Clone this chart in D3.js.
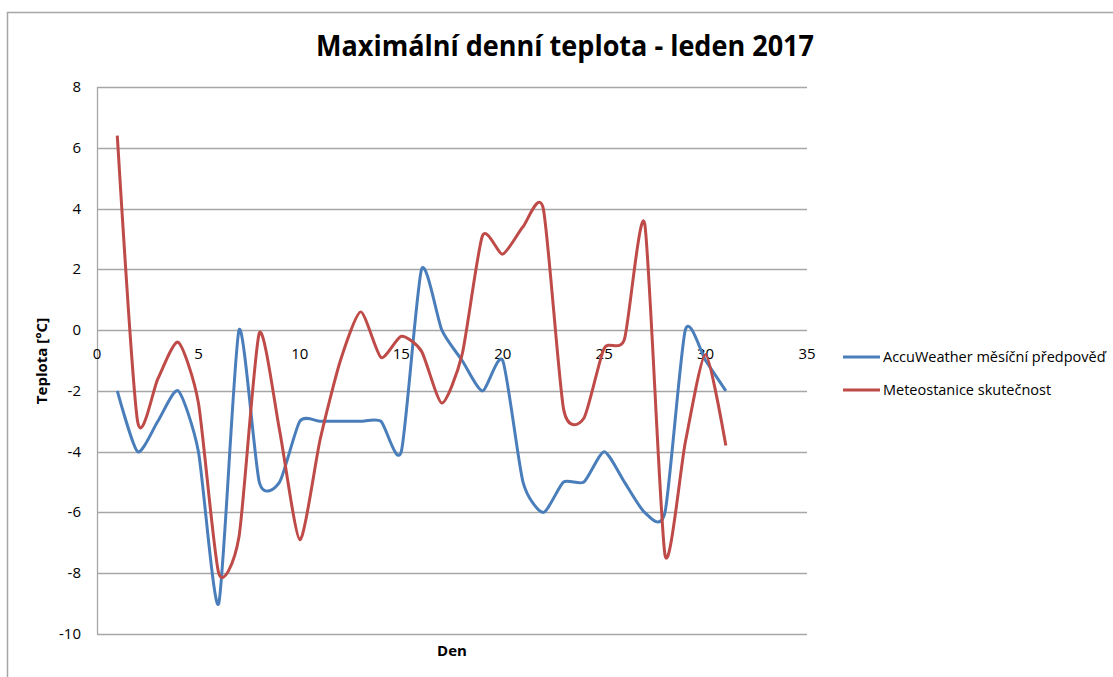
<!DOCTYPE html>
<html>
<head>
<meta charset="utf-8">
<script src="https://cdn.jsdelivr.net/npm/d3@7"></script>
<style>
  body { margin: 0; background: #fff; }
  text { font-family: "Open Sans", "DejaVu Sans", sans-serif; fill: #000; }
</style>
</head>
<body>
<svg id="chart" width="1113" height="677"></svg>
<script>
// data
const days = d3.range(1, 32)
const accuWeather = [-2, -4, -3, -2, -4, -9, 0, -5, -5, -3, -3, -3, -3, -3, -4, 2, 0, -1, -2, -1,
  -5, -6, -5, -5, -4, -5, -6, -6, 0, -1, -2]
const meteostanice = [6.4, -3, -1.6, -0.4, -2.4, -8, -6.8, -0.1, -3.3, -6.9, -3.6, -1, 0.6, -0.9, -0.2, -0.7,
  -2.4, -0.8, 3.1, 2.5, 3.4, 4, -2.6, -2.9, -0.6, -0.3, 3.5, -7.4, -3.7, -0.8, -3.8]
const seriesNames = ["AccuWeather měsíční předpověď", "Meteostanice skutečnost"]
const seriesColors = ["#4a7ebb", "#be4b48"]
const xTicks = [0, 5, 10, 15, 20, 25, 30, 35]
const yTicks = [8, 6, 4, 2, 0, -2, -4, -6, -8, -10]

const svg = d3.select("#chart")

// outer chart frame
svg.append("rect")
  .attr("x", 7.5).attr("y", 12.5)
  .attr("width", 1120).attr("height", 700)
  .attr("fill", "none").attr("stroke", "#a6a6a6").attr("stroke-width", 1.5)

const x = d3.scaleLinear().domain([0, 35]).range([97, 807])
const y = d3.scaleLinear().domain([-10, 8]).range([634, 87])

// horizontal gridlines
svg.append("g")
  .selectAll("line")
  .data(yTicks)
  .enter()
  .append("line")
  .attr("x1", x(0)).attr("x2", x(35))
  .attr("y1", d => Math.round(y(d)) + 0.5).attr("y2", d => Math.round(y(d)) + 0.5)
  .attr("stroke", "#a6a6a6").attr("stroke-width", 1.3)

// vertical axis line
svg.append("line")
  .attr("x1", x(0) + 0.5).attr("x2", x(0) + 0.5)
  .attr("y1", y(8)).attr("y2", y(-10))
  .attr("stroke", "#a6a6a6").attr("stroke-width", 1.3)

// y tick labels
svg.append("g")
  .selectAll("text")
  .data(yTicks)
  .enter()
  .append("text")
  .attr("x", 81)
  .attr("y", d => y(d) + 5)
  .attr("text-anchor", "end")
  .attr("font-size", 15)
  .text(d => d)

// x tick labels sit on the zero line
svg.append("g")
  .selectAll("text")
  .data(xTicks)
  .enter()
  .append("text")
  .attr("x", d => x(d))
  .attr("y", y(0) + 29)
  .attr("text-anchor", "middle")
  .attr("font-size", 15)
  .text(d => d)

// the two smoothed series, Excel-like smoothing
const line = d3.line()
  .x((d, i) => x(days[i]))
  .y(d => y(d))
  .curve(d3.curveCardinal.tension(0.35))

;[accuWeather, meteostanice].forEach((values, k) => {
  svg.append("path")
    .datum(values)
    .attr("d", line)
    .attr("fill", "none")
    .attr("stroke", seriesColors[k])
    .attr("stroke-width", 3)
    .attr("stroke-linejoin", "round")
})

// title and axis titles
svg.append("text")
  .attr("x", 565).attr("y", 56)
  .attr("text-anchor", "middle")
  .attr("font-size", 29).attr("font-weight", "bold")
  .attr("textLength", 498).attr("lengthAdjust", "spacingAndGlyphs")
  .text("Maximální denní teplota - leden 2017")

svg.append("text")
  .attr("x", 452).attr("y", 656)
  .attr("text-anchor", "middle")
  .attr("font-size", 15).attr("font-weight", "bold")
  .text("Den")

svg.append("text")
  .attr("transform", "translate(47,361) rotate(-90)")
  .attr("text-anchor", "middle")
  .attr("font-size", 15).attr("font-weight", "bold")
  .text("Teplota [°C]")

// legend
const legend = svg.append("g")
seriesNames.forEach((name, k) => {
  const ly = 357 + k * 33
  legend.append("line")
    .attr("x1", 843).attr("x2", 880)
    .attr("y1", ly).attr("y2", ly)
    .attr("stroke", seriesColors[k]).attr("stroke-width", 3)
  legend.append("text")
    .attr("x", 883).attr("y", ly + 5)
    .attr("font-size", 14.5)
    .text(name)
})
</script>
</body>
</html>
